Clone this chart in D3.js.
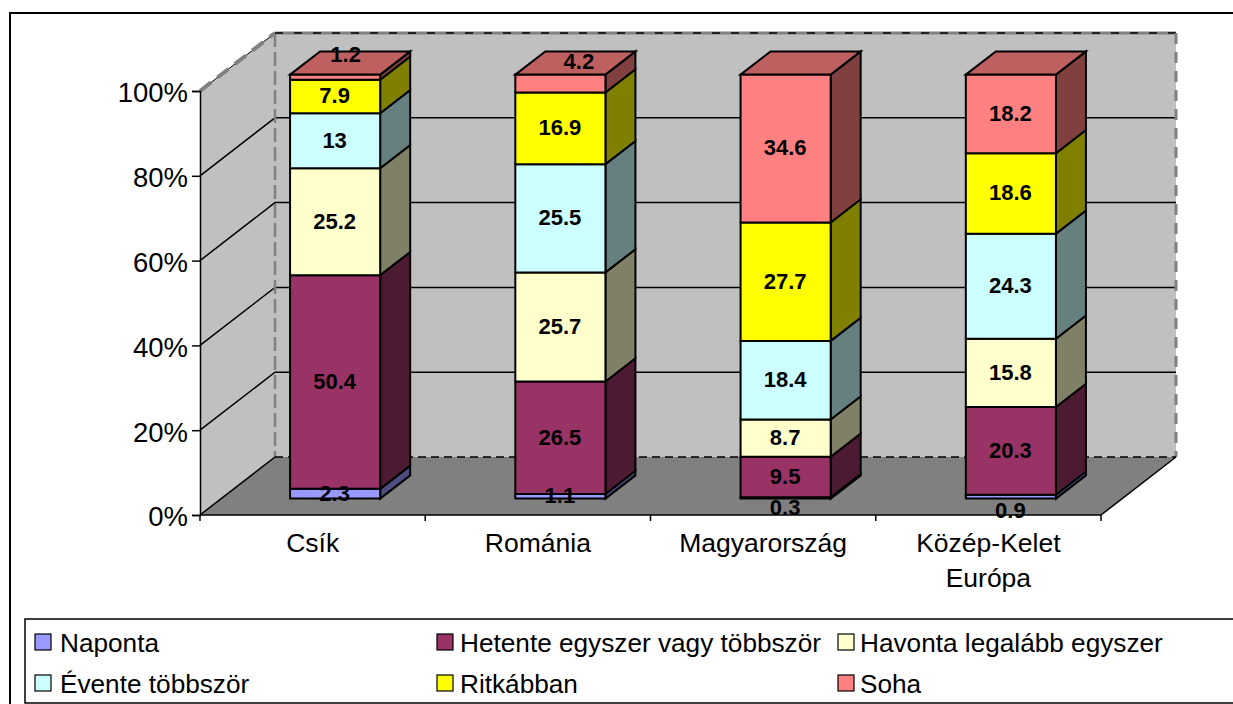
<!DOCTYPE html>
<html><head><meta charset="utf-8">
<script src="https://cdn.jsdelivr.net/npm/d3@7/dist/d3.min.js"></script>
<style>html,body{margin:0;padding:0;background:#fff}svg{display:block;font-family:"Liberation Sans",Arial,sans-serif}</style>
</head><body><svg id="c" width="1233" height="704"></svg>
<script>
const categories = [["Csík"],["Románia"],["Magyarország"],["Közép-Kelet","Európa"]];
const seriesNames = ["Naponta","Hetente egyszer vagy többször","Havonta legalább egyszer","Évente többször","Ritkábban","Soha"];
const naponta = [2.3,1.1,0.3,0.9];
const hetente = [50.4,26.5,9.5,20.3];
const havonta = [25.2,25.7,8.7,15.8];
const evente = [13,25.5,18.4,24.3];
const ritkabban = [7.9,16.9,27.7,18.6];
const soha = [1.2,4.2,34.6,18.2];
const seriesValues = [naponta,hetente,havonta,evente,ritkabban,soha];
const seriesColors = ["#9999FF","#993366","#FFFFCC","#CCFFFF","#FFFF00","#FF8080"];
const yTicks = [0,20,40,60,80,100];

const svg = d3.select("#c");
const L=200,R=1101,B=515,T=91,DX=75,DY=58;
const x = d3.scaleBand().domain(d3.range(4)).range([L,R]);
const y = d3.scaleLinear().domain([0,100]).range([B,T]);
const P = (px,py,d)=>[px+d*DX,py-d*DY];
const line = d3.line();
const poly=(pts,fill,stroke,w)=>svg.append("path").attr("d",line(pts)+"Z").attr("fill",fill)
  .attr("stroke",stroke||"none").attr("stroke-width",w||0).attr("stroke-linejoin","miter");
const seg=(pts,stroke,w,dash)=>svg.append("path").attr("d",line(pts)).attr("fill","none").attr("stroke",stroke)
  .attr("stroke-width",w).attr("stroke-dasharray",dash||null);

// chart frame
svg.append("rect").attr("x",10).attr("y",13).attr("width",1240).attr("height",720).attr("fill","#fff").attr("stroke","#000").attr("stroke-width",2);

// walls and floor
poly([P(L,B,0),P(L,T,0),P(L,T,1),P(L,B,1)],"#C0C0C0");
poly([P(L,T,1),P(R,T,1),P(R,B,1),P(L,B,1)],"#C0C0C0");
poly([P(L,B,0),P(R,B,0),P(R,B,1),P(L,B,1)],"#808080");

// gridlines
yTicks.slice(1,-1).forEach(t=>{
  seg([P(L,y(t),0),P(L,y(t),1),P(R,y(t),1)],"#000",1.5);
});
// wall edges
seg([P(L,T,0),P(L,T,1)],"#000",1);
seg([P(L,T,0),P(L,T,1)],"#808080",4,"14 8");
seg([P(L,T,1),P(L,B,1)],"#808080",2.5,"14 5");
seg([P(L,T,1),P(R,T,1)],"#808080",3);
seg([P(L,T,1),P(R,T,1)],"#000",1.5,"8 11");
seg([P(R,T,1),P(R,B,1)],"#808080",3,"11 8");
seg([P(L,B,1),P(R,B,1)],"#000",1.5,"8 5");
seg([P(L,B,0),P(L,B,1)],"#000",1.5);
seg([P(R,B,0),P(R,B,1)],"#000",1.5);

// axes
const yAxis = d3.axisLeft(y).tickValues(yTicks).tickSize(8).tickFormat(d=>d+"%");
const gy = svg.append("g").attr("transform",`translate(${L},0)`).call(yAxis);
gy.select(".domain").attr("stroke","#000").attr("stroke-width",1.5);
gy.selectAll("line").attr("stroke","#000").attr("stroke-width",1.5);
gy.selectAll("text").attr("font-size",27.5).attr("font-family","Liberation Sans").attr("fill","#000").attr("x",-12).attr("y",2);
seg([[L,B],[R,B]],"#000",1.5);
d3.range(5).forEach(i=>{
  const px = i<4?x(i):R;
  seg([[px,B],[px,B+6]],"#000",1.5);
});
categories.forEach((lines,i)=>{
  lines.forEach((s,j)=>{
    svg.append("text").attr("x",x(i)+x.bandwidth()/2).attr("y",552+j*35).attr("text-anchor","middle")
      .attr("font-size",26.5).attr("fill","#000").text(s);
  });
});

// bars
const shade=(c,k)=>d3.rgb(c).darker(0).copy({r:d3.rgb(c).r*k,g:d3.rgb(c).g*k,b:d3.rgb(c).b*k}).formatHex();
const D0=0.3,D1=0.7,barW=x.bandwidth()*0.4,lift=1;
const yb=v=>y(v)+lift;
const labels=[];
const nudges={"0,5":[11,-22],"1,5":[19,-21],"2,0":[0,10],"3,0":[0,14]};
categories.forEach((_,i)=>{
  const total=d3.sum(seriesValues,s=>s[i]);
  let acc=0;
  const x0=x(i)+x.bandwidth()*0.3, x1=x0+barW;
  seriesValues.forEach((s,k)=>{
    const v0=acc/total*100; acc+=s[i]; const v1=acc/total*100;
    const c=seriesColors[k];
    poly([P(x1,yb(v0),D0),P(x1,yb(v0),D1),P(x1,yb(v1),D1),P(x1,yb(v1),D0)],shade(c,0.5),"#000",2);
    poly([P(x0,yb(v0),D0),P(x1,yb(v0),D0),P(x1,yb(v1),D0),P(x0,yb(v1),D0)],c,"#000",2);
    if(k===seriesValues.length-1)
      poly([P(x0,yb(v1),D0),P(x1,yb(v1),D0),P(x1,yb(v1),D1),P(x0,yb(v1),D1)],shade(c,0.75),"#000",2);
    const n=nudges[i+","+k]||[0,0];
    const [cx,cy]=P((x0+x1)/2,y((v0+v1)/2),D0);
    labels.push({t:s[i],x:cx+n[0]-0.5,y:cy+n[1]});
  });
});
labels.forEach(l=>{
  svg.append("text").attr("x",l.x).attr("y",l.y).attr("dy","0.36em").attr("text-anchor","middle")
    .attr("font-size",22).attr("font-weight","bold").attr("fill","#000").text(l.t);
});

// legend
svg.append("rect").attr("x",25).attr("y",619).attr("width",1230).attr("height",84).attr("fill","#fff").attr("stroke","#000").attr("stroke-width",1.5);
const legX=[35,437,838], legTextX=[60,460,860], legY=[642,683];
seriesNames.forEach((n,i)=>{
  const r=Math.floor(i/3), c=i%3;
  svg.append("rect").attr("x",legX[c]).attr("y",legY[r]-8).attr("width",16).attr("height",16)
    .attr("fill",seriesColors[i]).attr("stroke","#000").attr("stroke-width",1.2);
  svg.append("text").attr("x",legTextX[c]).attr("y",legY[r]+10).attr("font-size",26.2).attr("fill","#000").text(n);
});
</script></body></html>
